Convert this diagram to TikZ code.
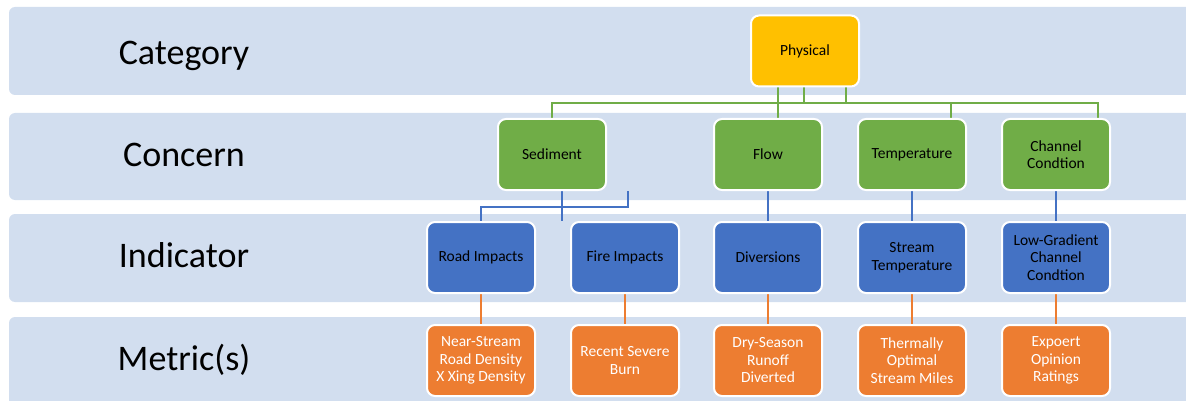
\documentclass[tikz,border=0pt]{standalone}
\usepackage{fontspec}
\setmainfont{Carlito}
\usetikzlibrary{backgrounds}
\definecolor{bandblue}{HTML}{D2DEEF}
\definecolor{physyellow}{HTML}{FFC000}
\definecolor{concgreen}{HTML}{70AD47}
\definecolor{indblue}{HTML}{4472C4}
\definecolor{metorange}{HTML}{ED7D31}
\tikzset{
  box/.style={draw=white, line width=2pt, rounded corners=8pt, minimum width=108pt,
    minimum height=71pt, align=center, inner sep=2pt, font=\fontsize{15.5}{17.5}\selectfont},
  catbox/.style={box, fill=physyellow},
  concbox/.style={box, fill=concgreen},
  indbox/.style={box, fill=indblue},
  metbox/.style={box, fill=metorange, text=white},
  gline/.style={concgreen, line width=2.5pt},
  bline/.style={indblue, line width=2.5pt},
  oline/.style={metorange, line width=2.5pt},
  band/.style={fill=bandblue, rounded corners=6pt},
  bandlabel/.style={anchor=base, font=\fontsize{36}{40}\selectfont}
}
\begin{document}
\begin{tikzpicture}[x=1pt,y=-1pt]
\useasboundingbox (0,0) rectangle (1186,401);
\node[bandlabel] (lcat) at (184,65) {Category};
\node[bandlabel] (lconc) at (184,167) {Concern};
\node[bandlabel] (lind) at (184,267) {Indicator};
\node[bandlabel] (lmet) at (184,370) {Metric(s)};
% boxes
\node[catbox] (phys) at (805,51) {Physical};
\node[concbox] (sed) at (552,154.5) {Sediment};
\node[concbox] (flow) at (768,154.5) {Flow};
\node[concbox] (temp) at (912,154.5) {Temperature};
\node[concbox] (chan) at (1056,154.5) {Channel\\Condtion};
\node[indbox] (road) at (481,257.5) {Road Impacts};
\node[indbox] (fire) at (625,257.5) {Fire Impacts};
\node[indbox] (div) at (768,257.5) {Diversions};
\node[indbox] (stemp) at (912,257.5) {Stream\\Temperature};
\node[indbox] (lowgrad) at (1056,257.5) {Low-Gradient\\Channel\\Condtion};
\node[metbox] (nsr) at (481,360.5) {Near-Stream\\Road Density\\X Xing Density};
\node[metbox] (burn) at (625,360.5) {Recent Severe\\Burn};
\node[metbox] (dry) at (768,360.5) {Dry-Season\\Runoff\\Diverted};
\node[metbox] (therm) at (912,360.5) {Thermally\\Optimal\\Stream Miles};
\node[metbox] (expert) at (1056,360.5) {Expoert\\Opinion\\Ratings};
\coordinate (ga) at (778,103);
\coordinate (gb) at (804,103);
\coordinate (gc) at (846,103);
\coordinate (ba) at (628,207);
\coordinate (bb) at (562,221);
\begin{scope}[on background layer]
% bands
\fill[band] (9,7) rectangle (1200,95);
\fill[band] (9,113) rectangle (1200,200);
\fill[band] (9,214) rectangle (1200,302);
\fill[band] (9,317) rectangle (1200,420);
% connectors
\draw[gline] (phys.south -| ga) -- (flow.north -| ga);
\draw[gline] (phys.south -| gb) -- (gb) -| (sed.north);
\draw[gline] (phys.south -| gc) -- (gc);
\draw[gline] (gb) -| ([xshift=39pt]temp.north);
\draw[gline] (gb) -| ([xshift=42pt]chan.north);
\draw[bline] (sed.south -| bb) -- (bb);
\draw[bline] (sed.south -| ba) -- (ba) -| (road.north);
\draw[bline] (flow.south) -- (div.north);
\draw[bline] (temp.south) -- (stemp.north);
\draw[bline] (chan.south) -- (lowgrad.north);
\draw[oline] (road.south) -- (nsr.north);
\draw[oline] (fire.south) -- (burn.north);
\draw[oline] (div.south) -- (dry.north);
\draw[oline] (stemp.south) -- (therm.north);
\draw[oline] (lowgrad.south) -- (expert.north);
\end{scope}
\end{tikzpicture}
\end{document}
